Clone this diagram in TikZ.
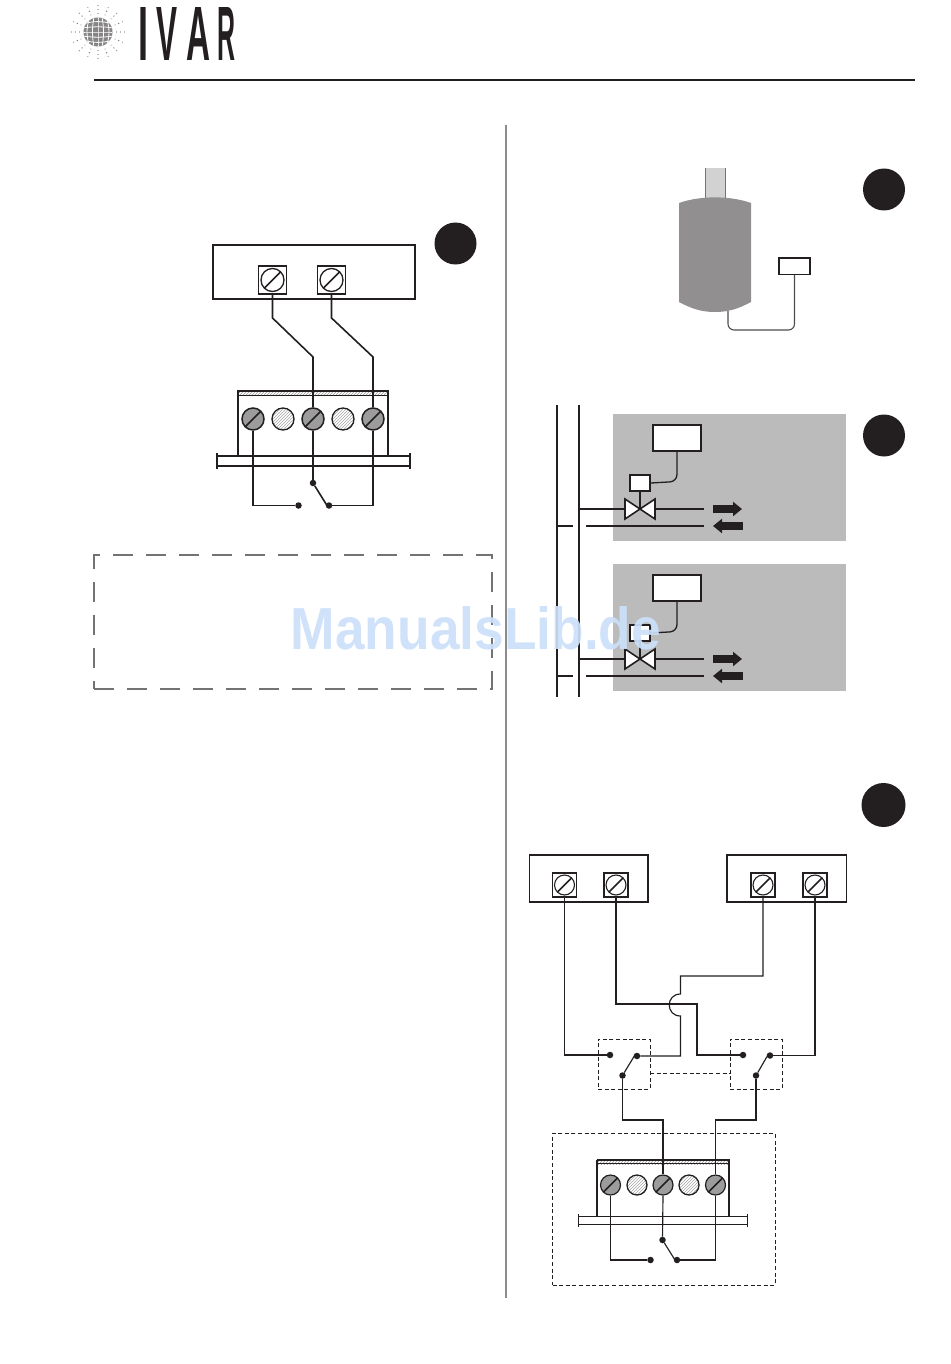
\documentclass[tikz,border=0pt]{standalone}
\usepackage{fontspec}
\usepackage{graphicx}
\setmainfont{Liberation Sans}
\usetikzlibrary{patterns,arrows.meta}
\definecolor{ink}{HTML}{231F20}
\definecolor{tankgrey}{HTML}{918F8F}
\definecolor{pipegrey}{HTML}{D2D2D2}
\definecolor{roomgrey}{HTML}{BBBBBB}
\definecolor{screwgrey}{HTML}{9C9C9C}
\definecolor{markblue}{HTML}{CBE0FA}
\tikzset{
  wire/.style={draw=ink,line width=1.6pt,line join=miter},
  thinwire/.style={draw=ink,line width=1.15pt},
  badge/.style={circle,fill=ink,minimum size=42pt,inner sep=0pt},
  boxa/.style={draw=ink,line width=1.8pt,minimum width=#1,inner sep=0pt},
  unit/.style={draw=ink,line width=1.1pt,inner sep=0pt},
  sqterm/.style={draw=ink,line width=1.6pt,minimum size=28pt,inner sep=0pt},
  sqtermb/.style={draw=ink,line width=1.1pt,minimum size=24pt,inner sep=0pt},
  slashed/.style={circle,draw=ink,inner sep=0pt,minimum size=#1,
    path picture={\draw[draw=ink,line width=1.5pt] (path picture bounding box.south west) -- (path picture bounding box.north east);}},
  screw/.style={slashed=#1,fill=screwgrey,line width=1.5pt},
  blank/.style={circle,draw=ink,line width=1.3pt,inner sep=0pt,minimum size=#1,pattern=north east lines,pattern color=black!35},
  dot/.style={circle,fill=ink,inner sep=0pt,minimum size=6.5pt},
  dashbox/.style={draw=ink,line width=.9pt,dash pattern=on 4pt off 2.6pt,fill=none},
  tube/.style={draw=ink,line width=1.6pt},
  lettr/.style={inner sep=0pt,text=ink},
  flowarrow/.style={-{Triangle[length=9pt,width=14pt]},draw=ink,line width=8pt},
}
\begin{document}
\begin{tikzpicture}[x=1pt,y=-1pt]
\useasboundingbox (0,0) rectangle (950,1364);
% ---------- logo ----------
\fill[ink!55] (98,32) circle (14.5);
\begin{scope}
  \clip (98,32) circle (14.5);
  \foreach \i in {-12,-8,-4,0,4,8,12} {
    \draw[white,line width=.8pt] (98+\i,17) .. controls (98+1.5*\i,27) and (98+1.5*\i,37) .. (98+\i,47);
    \draw[white,line width=.8pt] (83,32+\i) .. controls (93,32+1.4*\i) and (103,32+1.4*\i) .. (113,32+\i);
  }
\end{scope}
\foreach \a in {0,22.5,...,337.5} {
  \foreach \r/\s in {18.5/.55,22.5/.7,26.5/.6} {
    \fill[ink!60] ({98+\r*cos(\a)},{32+\r*sin(\a)}) circle (\s);
  }
}
\node[lettr] (lI) at (143.5,33.5) {\resizebox{10pt}{53pt}{\bfseries I}};
\node[lettr] (lV) at (167,33.5) {\resizebox{21pt}{53pt}{\bfseries V}};
\node[lettr] (lA) at (198.5,33.5) {\resizebox{24pt}{53pt}{\bfseries A}};
\node[lettr] (lR) at (226.5,33.5) {\resizebox{18pt}{53pt}{\bfseries R}};
% rules
\coordinate (hl) at (94,80); \coordinate (hr) at (915,80);
\draw[draw=ink,line width=2pt] (hl) -- (hr);
\coordinate (vt) at (506,125); \coordinate (vb) at (506,1298);
\draw[draw=black!45,line width=1.6pt] (vt) -- (vb);
% ---------- figure 1 ----------
\node[badge] (b1) at (455.5,243.5) {};
\node[boxa=202pt,minimum height=54pt] (ctl) at (314,272) {};
\node[sqterm] (t1) at (272.5,280) {};
\node[sqterm] (t2) at (331.5,280) {};
\node[slashed=23pt,line width=1.3pt] (t1s) at (272.5,280) {};
\node[slashed=23pt,line width=1.3pt] (t2s) at (331.5,280) {};
\coordinate (bl) at (238,456); \coordinate (br) at (388,456);
\fill[pattern=north east lines,pattern color=black!40] (238,391) rectangle (388,395);
\draw[draw=ink,line width=1.8pt] (bl) -- (238,391) -- (388,391) -- (br);
\draw[draw=ink,line width=.6pt] (238,395.5) -- (388,395.5);
\node[screw=22pt] (s1) at (253,419) {};
\node[blank=22pt] (s2) at (283,419) {};
\node[screw=22pt] (s3) at (313,419) {};
\node[blank=22pt] (s4) at (343,419) {};
\node[screw=22pt] (s5) at (373,419) {};
\draw[draw=ink,line width=1.8pt] (217,453) -- (217,469) (410,453) -- (410,469) (217,456) -- (410,456) (217,466) -- (410,466);
\node[dot] (d1) at (298.5,505.5) {};
\node[dot] (d2) at (313,483) {};
\node[dot] (d3) at (329,505.5) {};
\draw[wire] (t1.south) -- (272.5,318) -- (313,357) -- (s3.north);
\draw[wire] (t2.south) -- (331.5,318) -- (373,357) -- (s5.north);
\draw[wire] (s1.south) |- (d1);
\draw[wire] (s3.south) -- (d2);
\draw[wire] (d2) -- (327,505.5);
\draw[wire] (s5.south) |- (d3);
\node[draw=black!55,line width=1.5pt,dash pattern=on 20pt off 13pt,minimum width=398pt,minimum height=134pt,inner sep=0pt] (note) at (293,622) {};
% ---------- figure 2 : tank ----------
\node[badge] (b2) at (884,189.5) {};
\path[fill=pipegrey] (705,168) rectangle (725,200);
\draw[draw=black!55,line width=.9pt] (705,168) -- (705,199) (725,168) -- (725,199);
\path[fill=tankgrey] (679,203) .. controls (700,195.5) and (730,195.5) .. (751,203) -- (751,302) .. controls (738,309) and (728,312) .. (715,312) .. controls (702,312) and (692,309) .. (679,302) -- cycle;
\node[unit,minimum width=31pt,minimum height=16.5pt] (sens) at (794.5,266.2) {};
\coordinate (tk) at (728,311);
\draw[draw=ink!80,line width=1.1pt,rounded corners=6pt] (sens.south) -- (794.5,330) -- (728,330) -- (tk);
% ---------- figure 3 : rooms ----------
\node[badge] (b3) at (884,435.5) {};
\node[fill=roomgrey,minimum width=233.5pt,minimum height=127pt,inner sep=0pt] (r1) at (729.25,477.5) {};
\node[fill=roomgrey,minimum width=233.5pt,minimum height=127pt,inner sep=0pt] (r2) at (729.25,627.5) {};
\coordinate (pa) at (557,405); \coordinate (pb) at (557,697);
\coordinate (qa) at (579,405); \coordinate (qb) at (579,697);
\draw[tube] (pa) -- (pb);
\draw[tube] (qa) -- (qb);
\foreach \n/\o in {u/0,w/150} {
  \begin{scope}[yshift=-\o pt]
    \node[draw=ink,line width=1.7pt,fill=white,minimum width=48pt,minimum height=26pt,inner sep=0pt] (tb\n) at (677,438) {};
    \node[draw=ink,line width=1.7pt,fill=white,minimum width=20pt,minimum height=16pt,inner sep=0pt] (vb\n) at (640,483) {};
    \coordinate (vc\n) at (640,509);
    \filldraw[draw=ink,line width=1.6pt,fill=white] (625,499) -- (655,519) -- (655,499) -- (625,519) -- cycle;
    \draw[draw=ink,line width=1.5pt] (vb\n.south) -- (vc\n);
    \draw[draw=ink,line width=1.3pt,rounded corners=7pt] (tb\n.south) -- (677,481.5) -- (vb\n.east);
    \coordinate (m\n) at (579,509); \coordinate (va\n) at (625,509); \coordinate (vd\n) at (655,509); \coordinate (ve\n) at (704,509);
    \draw[tube] (m\n) -- (va\n) (vd\n) -- (ve\n);
    \coordinate (n\n) at (557,526); \coordinate (na\n) at (573,526); \coordinate (nb\n) at (586,526); \coordinate (nc\n) at (704,526);
    \draw[tube] (n\n) -- (na\n) (nb\n) -- (nc\n);
    \coordinate (fa\n) at (713,509); \coordinate (fb\n) at (742,509);
    \coordinate (ga\n) at (743,526); \coordinate (gb\n) at (713,526);
    \draw[flowarrow] (fa\n) -- (fb\n);
    \draw[flowarrow] (ga\n) -- (gb\n);
  \end{scope}
}
% ---------- figure 4 ----------
\node[badge,minimum size=44pt] (b4) at (883.5,805) {};
\node[draw=ink,line width=1.1pt,minimum width=118.5pt,minimum height=47pt,inner sep=0pt] (ca) at (588.75,878.5) {};
\node[draw=ink,line width=1.1pt,minimum width=119.5pt,minimum height=47pt,inner sep=0pt] (cb) at (786.75,878.5) {};
\foreach \n/\x in {a/564.5,b/616,c/763,d/815} {
  \node[sqtermb] (q\n) at (\x,885) {};
  \node[slashed=20pt,line width=1.1pt] (r\n) at (\x,885) {};
}
\node[dashbox,minimum width=52pt,minimum height=50pt,inner sep=0pt] (sw1) at (624,1064) {};
\node[dashbox,minimum width=52pt,minimum height=50pt,inner sep=0pt] (sw2) at (756,1064) {};
\draw[dashbox] (650,1073) -- (730,1073);
\node[dot] (e1) at (610,1055) {};
\node[dot] (e2) at (637,1056) {};
\node[dot] (e3) at (622.5,1075.5) {};
\node[dot] (e4) at (743,1055) {};
\node[dot] (e5) at (770,1055.5) {};
\node[dot] (e6) at (756,1075.5) {};
% lower block
\node[dashbox,minimum width=222.5pt,minimum height=152pt] (outer) at (663.75,1209) {};
\fill[pattern=north east lines,pattern color=black!40] (597,1160) rectangle (729,1164);
\draw[draw=ink,line width=1.1pt] (597,1217) -- (597,1160) (729,1160) -- (729,1217);
\draw[draw=ink,line width=1.8pt] (596.5,1160) -- (729.5,1160);
\draw[draw=ink,line width=.5pt] (597,1163.5) -- (729,1163.5);
\node[screw=20pt,line width=1.2pt] (k1) at (610.5,1185) {};
\node[blank=20pt] (k2) at (637,1185) {};
\node[screw=20pt,line width=1.2pt] (k3) at (663,1185) {};
\node[blank=20pt] (k4) at (689,1185) {};
\node[screw=20pt,line width=1.2pt] (k5) at (715.5,1185) {};
\draw[draw=ink,line width=1.1pt] (578.5,1214) -- (578.5,1227) (747.5,1214) -- (747.5,1227) (578.5,1216.5) -- (747.5,1216.5) (578.5,1224.5) -- (747.5,1224.5);
\node[dot] (f1) at (650.5,1260) {};
\node[dot] (f2) at (662.5,1240) {};
\node[dot] (f3) at (677,1260) {};
\draw[thinwire] (qa.south) |- (e1);
\draw[thinwire] (qb.south) -- (616,1004) -- (697,1004) -- (697,1055) -- (e4);
\draw[thinwire] (qc.south) -- (763,976) -- (680.5,976) -- (680.5,994) .. controls (665.5,994) and (665.5,1016) .. (680.5,1016) -- (680.5,1056) -- (e2);
\draw[thinwire] (qd.south) |- (e5);
\draw[thinwire] (e3) -- (635.5,1054);
\draw[thinwire] (e6) -- (768.5,1054);
\draw[thinwire] (e3) -- (622.5,1120) -- (663,1120) -- (k3.north);
\draw[thinwire] (e6) -- (756,1120) -- (715.5,1120) -- (k5.north);
\draw[thinwire] (k1.south) |- (f1);
\draw[thinwire] (k3.south) -- (f2);
\draw[thinwire] (f2) -- (675,1260);
\draw[thinwire] (k5.south) |- (f3);
% ---------- watermark ----------
\node[inner sep=0pt,text=markblue,opacity=.92] (mark) at (476,628.5) {\resizebox{370pt}{43pt}{\bfseries ManualsLib.de}};
\end{tikzpicture}
\end{document}
